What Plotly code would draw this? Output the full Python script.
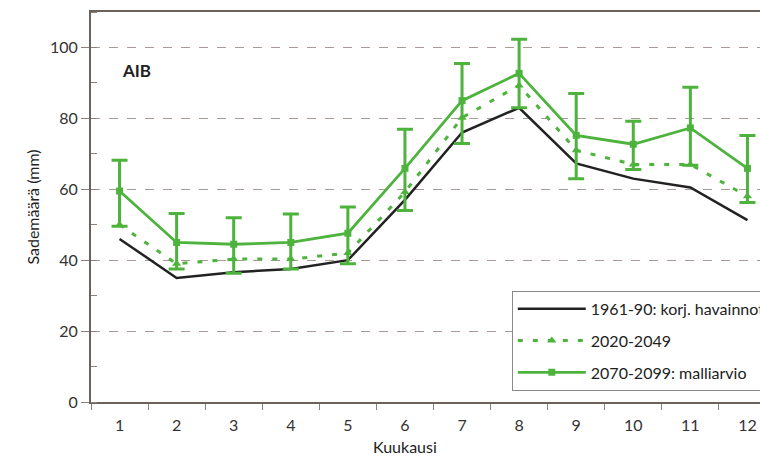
import plotly.graph_objects as go

months = list(range(1, 13))
month_labels = ["1", "2", "3", "4", "5", "6", "7", "8", "9", "10", "11", "12"]

obs_1961_90 = [46, 35, 36.6, 37.5, 40, 57, 76, 83, 67.3, 63, 60.5, 51.3]
proj_2020_49 = [50, 39, 40.3, 40.3, 42, 59.2, 80.2, 89.3, 71, 67, 67, 58]
proj_2070_99 = [59.5, 45, 44.5, 45, 47.6, 65.9, 85, 92.7, 75.2, 72.7, 77.3, 65.9]
upper_2070_99 = [68.2, 53.2, 52, 53, 55, 76.9, 95.5, 102.3, 87, 79.2, 88.8, 75.2]
lower_2070_99 = [49.6, 37.5, 36.3, 37.5, 39, 54, 72.9, 83, 63, 65.6, 66.8, 56.3]

err_plus = [u - m for u, m in zip(upper_2070_99, proj_2070_99)]
err_minus = [m - l for m, l in zip(proj_2070_99, lower_2070_99)]

GREEN = "#4db33d"
FONT = "Lato"

fig = go.Figure()
fig.add_trace(go.Scatter(
    x=months, y=obs_1961_90, mode="lines",
    name="1961-90: korj. havainnot",
    line=dict(color="#222222", width=2.5),
    legendgroup="a",
))
fig.add_trace(go.Scatter(
    x=months, y=proj_2020_49, mode="lines+markers",
    name="2020-2049",
    line=dict(color=GREEN, width=3, dash="5px,10px"),
    marker=dict(symbol="triangle-up", size=8, color=GREEN),
    legendgroup="b",
))
fig.add_trace(go.Scatter(
    x=months, y=proj_2070_99, mode="lines+markers",
    name="2070-2099: malliarvio",
    line=dict(color=GREEN, width=2.8),
    marker=dict(symbol="square", size=7, color=GREEN),
    error_y=dict(type="data", array=err_plus, arrayminus=err_minus,
                 color=GREEN, thickness=3, width=8),
    legendgroup="c",
))

fig.add_annotation(x=1.0, y=93.5, xref="x", yref="y", text="<b>AIB</b>",
                   showarrow=False, xanchor="left", yanchor="middle",
                   font=dict(family=FONT, size=17, color="#222222"))
fig.add_annotation(x=6, y=-0.113, xref="x", yref="paper", text="Kuukausi",
                   showarrow=False, xanchor="center", yanchor="middle",
                   font=dict(family=FONT, size=16, color="#222222"))

fig.update_layout(
    width=760, height=456,
    margin=dict(l=91, r=0, t=12, b=54, autoexpand=False),
    paper_bgcolor="white", plot_bgcolor="white",
    font=dict(family=FONT, size=16, color="#333333"),
    showlegend=True,
    legend=dict(x=0.629, y=0.285, xanchor="left", yanchor="top",
                bordercolor="#8a8a8a", borderwidth=1, bgcolor="white",
                font=dict(family=FONT, size=16, color="#222222"),
                itemwidth=68,
                traceorder="grouped", tracegroupgap=8),
)
fig.update_xaxes(
    range=[0.5, 12.22], tickvals=months, ticktext=month_labels,
    ticks="", showgrid=False, zeroline=False, automargin=False,
    showline=True, linecolor="#6b625e", linewidth=2, mirror=True,
    ticklabelstandoff=8,
    minor=dict(tick0=0.5, dtick=1, ticks="outside", ticklen=6,
               tickcolor="#8a807c", showgrid=False),
    tickfont=dict(family=FONT, size=16, color="#333333"),
)
fig.update_yaxes(
    range=[0, 110], tickvals=[0, 20, 40, 60, 80, 100],
    ticks="outside", ticklen=8, tickcolor="#8a807c", automargin=False,
    showgrid=True, gridcolor="#a89a95", griddash="dash", gridwidth=1,
    zeroline=False, showline=True, linecolor="#6b625e", linewidth=2,
    minor=dict(tick0=0, dtick=10, ticks="inside", ticklen=6,
               tickcolor="#8a807c", showgrid=False),
    title=dict(text="Sademäärä (mm)", standoff=6,
               font=dict(family=FONT, size=16, color="#222222")),
    tickfont=dict(family=FONT, size=16, color="#333333"),
)

fig.write_html("out.html",
               config={"displayModeBar": False},
               post_script="document.body.style.margin='0';document.body.style.padding='0';")
